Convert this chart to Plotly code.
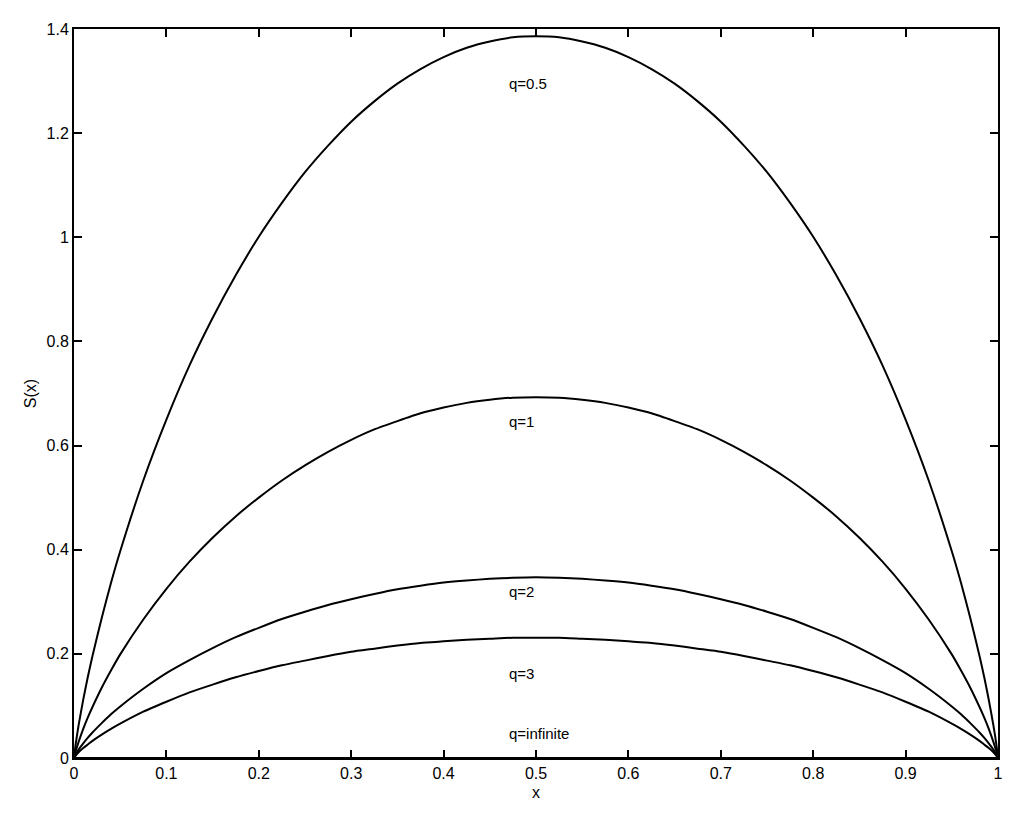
import plotly.graph_objects as go

x = [0, 0.002, 0.005, 0.01, 0.015, 0.02, 0.03, 0.04, 0.05, 0.075, 0.1, 0.125, 0.15, 0.175, 0.2, 0.225,
     0.25, 0.275, 0.3, 0.325, 0.35, 0.375, 0.4, 0.425, 0.45, 0.475, 0.5,
     0.525, 0.55, 0.575, 0.6, 0.625, 0.65, 0.675, 0.7, 0.725, 0.75, 0.775, 0.8, 0.825, 0.85, 0.875,
     0.9, 0.925, 0.95, 0.96, 0.97, 0.98, 0.985, 0.99, 0.995, 0.998, 1]

s_q05 = [0, 0.029, 0.063, 0.112, 0.156, 0.196, 0.269, 0.336, 0.397, 0.533, 0.650, 0.754, 0.845, 0.927, 1.001,
         1.066, 1.125, 1.176, 1.222, 1.261, 1.295, 1.323, 1.346, 1.364, 1.376, 1.384, 1.386,
         1.384, 1.376, 1.364, 1.346, 1.323, 1.295, 1.261, 1.222, 1.176, 1.125, 1.066, 1.001, 0.927, 0.845,
         0.754, 0.650, 0.533, 0.397, 0.336, 0.269, 0.196, 0.156, 0.112, 0.063, 0.029, 0]
s_q1 = [0, 0.014, 0.031, 0.056, 0.078, 0.098, 0.135, 0.168, 0.199, 0.266, 0.325, 0.377, 0.423, 0.464, 0.500,
        0.533, 0.562, 0.588, 0.611, 0.631, 0.647, 0.662, 0.673, 0.682, 0.688, 0.692, 0.693,
        0.692, 0.688, 0.682, 0.673, 0.662, 0.647, 0.631, 0.611, 0.588, 0.562, 0.533, 0.500, 0.464, 0.423,
        0.377, 0.325, 0.266, 0.199, 0.168, 0.135, 0.098, 0.078, 0.056, 0.031, 0.014, 0]
s_q2 = [0, 0.007, 0.016, 0.028, 0.039, 0.049, 0.067, 0.084, 0.099, 0.133, 0.163, 0.188, 0.211, 0.232, 0.250,
        0.267, 0.281, 0.294, 0.305, 0.315, 0.324, 0.331, 0.337, 0.341, 0.344, 0.346, 0.347,
        0.346, 0.344, 0.341, 0.337, 0.331, 0.324, 0.315, 0.305, 0.294, 0.281, 0.267, 0.250, 0.232, 0.211,
        0.188, 0.163, 0.133, 0.099, 0.084, 0.067, 0.049, 0.039, 0.028, 0.016, 0.007, 0]
s_q3 = [0, 0.005, 0.011, 0.019, 0.026, 0.033, 0.045, 0.056, 0.066, 0.089, 0.108, 0.126, 0.141, 0.155, 0.167,
        0.178, 0.187, 0.196, 0.204, 0.210, 0.216, 0.221, 0.224, 0.227, 0.229, 0.231, 0.231,
        0.231, 0.229, 0.227, 0.224, 0.221, 0.216, 0.210, 0.204, 0.196, 0.187, 0.178, 0.167, 0.155, 0.141,
        0.126, 0.108, 0.089, 0.066, 0.056, 0.045, 0.033, 0.026, 0.019, 0.011, 0.005, 0]
s_qinf = [0] * len(x)

series = [("q=0.5", s_q05), ("q=1", s_q1), ("q=2", s_q2), ("q=3", s_q3), ("q=infinite", s_qinf)]

label_text = ["q=0.5", "q=1", "q=2", "q=3", "q=infinite"]
label_x = [0.469, 0.469, 0.469, 0.469, 0.469]
label_y = [1.296, 0.647, 0.319, 0.163, 0.048]

xticks = [0, 0.1, 0.2, 0.3, 0.4, 0.5, 0.6, 0.7, 0.8, 0.9, 1]
xticklabels = ["0", "0.1", "0.2", "0.3", "0.4", "0.5", "0.6", "0.7", "0.8", "0.9", "1"]
yticks = [0, 0.2, 0.4, 0.6, 0.8, 1, 1.2, 1.4]
yticklabels = ["0", "0.2", "0.4", "0.6", "0.8", "1", "1.2", "1.4"]

FONT = "Liberation Sans, Arial, sans-serif"

fig = go.Figure()
for name, ys in series:
    fig.add_trace(go.Scatter(x=x, y=ys, mode="lines", name=name,
                             line=dict(color="black", width=2, shape="spline", smoothing=0.5),
                             showlegend=False, hoverinfo="skip"))

for t, lx, ly in zip(label_text, label_x, label_y):
    fig.add_annotation(x=lx, y=ly, text=t, showarrow=False, xanchor="left", yanchor="middle",
                       font=dict(family=FONT, size=15, color="black"))

axis_common = dict(showgrid=False, zeroline=False, showline=True, linecolor="black", linewidth=2,
                   mirror="ticks", ticks="inside", ticklen=8, tickwidth=1.5, tickcolor="black",
                   automargin=False,
                   tickfont=dict(family=FONT, size=16, color="black"))

fig.update_xaxes(range=[0, 1], tickvals=xticks, ticktext=xticklabels,
                 title=dict(text="x", font=dict(family=FONT, size=16, color="black"), standoff=6),
                 **axis_common)
fig.update_yaxes(range=[0, 1.4], tickvals=yticks, ticktext=yticklabels,
                 title=dict(text="S(x)", font=dict(family=FONT, size=16, color="black"), standoff=6),
                 **axis_common)

fig.update_layout(width=1016, height=816, plot_bgcolor="white", paper_bgcolor="white",
                  margin=dict(l=66, r=26, t=21, b=66))

fig.write_html("out.html")
